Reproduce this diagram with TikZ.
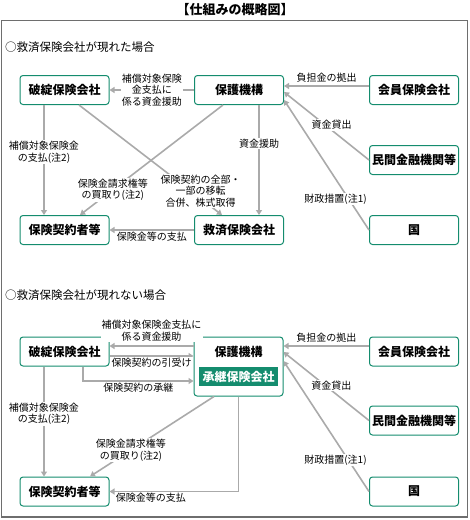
\documentclass[tikz,border=0pt]{standalone}
\usepackage{fontspec}
\setmainfont{Noto Sans CJK JP}
\usepackage{tikz}
\usetikzlibrary{arrows.meta,calc}
\definecolor{boxgreen}{RGB}{20,140,110}
\definecolor{linegray}{RGB}{170,170,170}
\definecolor{framegray}{RGB}{110,110,110}

\begin{document}
\begin{tikzpicture}[
    x=1pt, y=-1pt,
    >={Triangle[length=5pt,width=6pt]},
    box/.style={rectangle, draw=boxgreen, line width=1pt, rounded corners=3pt, fill=white, minimum width=89pt, minimum height=29pt, inner sep=0pt, font=\fontsize{12}{14}\selectfont\bfseries},
    succ/.style={rectangle, fill=boxgreen, text=white, minimum width=79pt, minimum height=19pt, inner sep=0pt, font=\fontsize{12}{14}\selectfont\bfseries},
    arr/.style={->, draw=linegray, line width=1.6pt},
    lbl/.style={fill=white, inner sep=1pt, align=center, font=\fontsize{10}{11.5}\selectfont},
    head/.style={anchor=west, inner sep=0pt, font=\fontsize{11.5}{13}\selectfont}
]
    \useasboundingbox (0,0) rectangle (470,520);
    \node[font=\fontsize{13}{15}\selectfont\bfseries] (title) at (235,10) {【仕組みの概略図】};
    \draw[framegray, line width=1.2pt] (1.5,20.5) rectangle (467.5,517);

    % Case 1
    \node[head] (h1) at (5,47) {○救済保険会社が現れた場合};
    \node[box] (fail) at (64.5,90) {破綻保険会社};
    \node[box] (org) at (239,90) {保護機構};
    \node[box] (member) at (414,90) {会員保険会社};
    \node[box] (bank) at (414,160) {民間金融機関等};
    \node[box] (gov) at (414,230) {国};
    \node[box] (holder) at (64.5,230) {保険契約者等};
    \node[box] (rescue) at (239,230) {救済保険会社};

    \draw[arr] (org) -- (fail) node[lbl, midway] {補償対象保険\\金支払に\\係る資金援助};
    \draw[arr] ([xshift=-20.5pt]fail.south) -- ([xshift=-20.5pt]holder.north) node[lbl, pos=0.43] {補償対象保険金\\の支払(注2)};
    \draw[arr] ([xshift=14.5pt]fail.south) -- ([xshift=-17pt]rescue.north) node[lbl, pos=0.78, xshift=10pt] {保険契約の全部・\\一部の移転\\合併、株式取得};
    \draw[arr] ([xshift=-16pt]org.south) -- ([xshift=15.5pt]holder.north) node[lbl, pos=0.77] {保険金請求権等\\の買取り(注2)};
    \draw[arr] ([xshift=20pt]org.south) -- ([xshift=20pt]rescue.north) node[lbl, pos=0.35] {資金援助};
    \draw[arr] (rescue) -- (holder) node[lbl, below, midway] {保険金等の支払};
    \draw[arr] ([yshift=4pt]member.west) -- ([yshift=4pt]org.east) node[lbl, above, midway, yshift=2pt] {負担金の拠出};
    \draw[arr] (bank.west) -- ([yshift=-2pt]org.east) node[lbl, pos=0.44, yshift=5pt] {資金貸出};
    \draw[arr] (gov.west) -- ([yshift=-10pt]org.east) node[lbl, pos=0.24, xshift=-13pt] {財政措置(注1)};

    % Case 2
    \node[head] (h2) at (5,295) {○救済保険会社が現れない場合};
    \node[box] (fail2) at (64.5,351.5) {破綻保険会社};
    \node[box, minimum height=59pt] (org2) at (238.5,366.5) {};
    \node[font=\fontsize{12}{14}\selectfont\bfseries] (org2t) at (238.5,352) {保護機構};
    \node[succ] (succ2) at (238.5,376.5) {承継保険会社};
    \node[box] (member2) at (414,351.5) {会員保険会社};
    \node[box] (bank2) at (414,420.5) {民間金融機関等};
    \node[box] (gov2) at (414,491.5) {国};
    \node[box] (holder2) at (64.5,491.5) {保険契約者等};

    \draw[arr] (org2.west |- 0,346) -- (fail2.east |- 0,346) node[lbl, above, midway, yshift=3pt] {補償対象保険金支払に\\係る資金援助};
    \draw[arr] (fail2.east |- 0,356) -- (org2.west |- 0,356) node[lbl, below, midway] {保険契約の引受け};
    \draw[arr] ([xshift=18.5pt]fail2.south) |- (org2.west |- 0,381) node[lbl, below, pos=0.75] {保険契約の承継};
    \draw[arr] ([xshift=-20.5pt]fail2.south) -- ([xshift=-20.5pt]holder2.north) node[lbl, pos=0.43] {補償対象保険金\\の支払(注2)};
    \draw[arr] ([xshift=-24.5pt]org2.south) -- ([xshift=25.5pt]holder2.north) node[lbl, pos=0.67] {保険金請求権等\\の買取り(注2)};
    \draw[arr] (org2.south) |- (holder2.east) node[lbl, below, pos=0.84] {保険金等の支払};
    \draw[arr] ([yshift=5.5pt]member2.west) -- (org2.east |- 0,346) node[lbl, above, midway, yshift=2pt] {負担金の拠出};
    \draw[arr] (bank2.west) -- (org2.east |- 0,352) node[lbl, pos=0.44, yshift=5pt] {資金貸出};
    \draw[arr] (gov2.west) -- (org2.east |- 0,361) node[lbl, pos=0.24, xshift=-13pt] {財政措置(注1)};
\end{tikzpicture}
\end{document}
